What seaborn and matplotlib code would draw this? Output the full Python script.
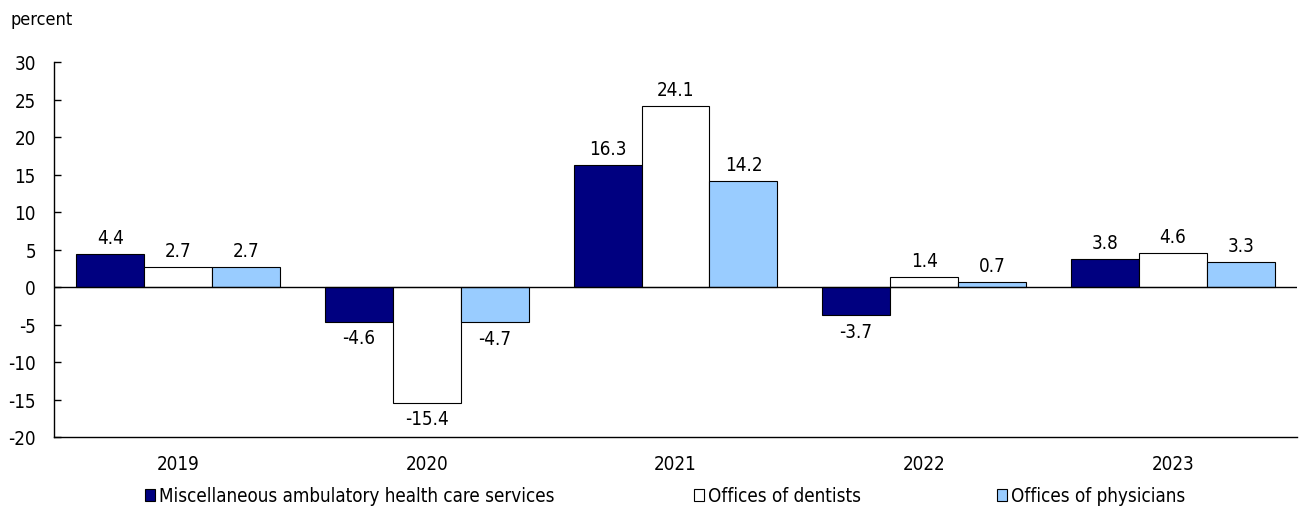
import matplotlib
matplotlib.use("Agg")
import matplotlib.pyplot as plt
import seaborn as sns
import pandas as pd
from matplotlib.patches import Patch
from matplotlib import font_manager

years = ["2019", "2020", "2021", "2022", "2023"]
series_names = ["Miscellaneous ambulatory health care services", "Offices of dentists", "Offices of physicians"]
misc = [4.4, -4.6, 16.3, -3.7, 3.8]
dentists = [2.7, -15.4, 24.1, 1.4, 4.6]
physicians = [2.7, -4.7, 14.2, 0.7, 3.3]
colors = ["#000080", "#ffffff", "#99ccff"]
yticks = [30, 25, 20, 15, 10, 5, 0, -5, -10, -15, -20]

sns.set_theme(style="white")
names = {f.name for f in font_manager.fontManager.ttflist}
fam = "Liberation Sans Narrow" if "Liberation Sans Narrow" in names else "DejaVu Sans"
plt.rcParams["font.family"] = [fam, "DejaVu Sans"]
plt.rcParams["font.stretch"] = "condensed"
plt.rcParams["axes.unicode_minus"] = False
plt.rcParams["text.color"] = "black"
plt.rcParams["xtick.color"] = "black"
plt.rcParams["ytick.color"] = "black"

FS = 13.5

rows = []
for s, vals in zip(series_names, [misc, dentists, physicians]):
    for y, v in zip(years, vals):
        rows.append({"year": y, "series": s, "value": v})
df = pd.DataFrame(rows)

fig = plt.figure(figsize=(13.09, 5.10), dpi=100)
ax = fig.add_axes([54/1309, 1-438/510, (1297-54)/1309, (438-63)/510])
sns.barplot(data=df, x="year", y="value", hue="series", hue_order=series_names,
            palette=colors, edgecolor="black", linewidth=0.8, width=0.82,
            saturation=1, ax=ax, legend=False)

for cont in ax.containers:
    ax.bar_label(cont, fmt="%.1f", padding=5, fontsize=FS, color="black")

ax.axhline(0, color="black", lw=1, zorder=5)
ax.set_ylim(-20, 30)
ax.set_yticks(yticks)
ax.set_xlim(-0.5, 4.5)
ax.set_xlabel("")
ax.set_ylabel("")
for sp in ["top", "right"]:
    ax.spines[sp].set_visible(False)
for sp in ["left", "bottom"]:
    ax.spines[sp].set_color("black")
    ax.spines[sp].set_linewidth(1)
ax.tick_params(axis="y", direction="in", length=5, width=1, color="black", labelsize=FS, pad=13, left=True)
ax.tick_params(axis="x", length=0, labelsize=FS, pad=12)

fig.text(10/1309, 1-20/510, "percent", fontsize=13, va="center", ha="left")

leg_x = [145, 694, 997]
for c, name, lx in zip(colors, series_names, leg_x):
    h = Patch(facecolor=c, edgecolor="black", linewidth=0.8)
    fig.legend([h], [name], loc="center left", bbox_to_anchor=(lx/1309, 1-497/510),
               frameon=False, fontsize=FS, handlelength=0.55, handleheight=0.55,
               handletextpad=0.2, borderaxespad=0, borderpad=0)

fig.savefig("out.png", dpi=100)
